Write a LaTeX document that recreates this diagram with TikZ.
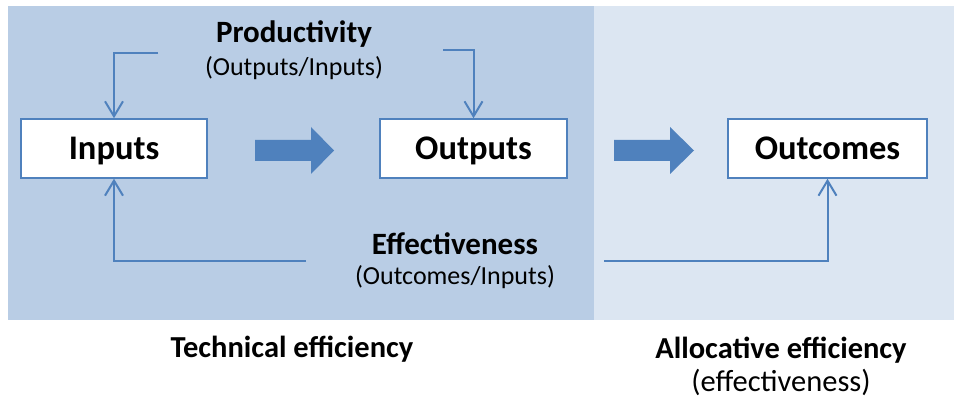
\documentclass[tikz,border=0pt]{standalone}
\usepackage{fontspec}
\setmainfont{Carlito}
\usetikzlibrary{arrows.meta}
\definecolor{darkpanel}{HTML}{B9CDE5}
\definecolor{lightpanel}{HTML}{DCE6F2}
\definecolor{linkblue}{HTML}{4F81BD}
\tikzset{
  box/.style={draw=linkblue,line width=1.5pt,fill=white,minimum height=59pt,
    text height=23pt,text depth=0pt,font=\fontsize{34.5}{38}\selectfont\bfseries},
  link/.style={draw=linkblue,line width=2pt,-{Straight Barb[length=15pt,width=18pt]}},
  title/.style={anchor=base,font=\fontsize{31}{34}\selectfont\bfseries},
  sub/.style={anchor=base,font=\fontsize{26}{30}\selectfont},
  footer/.style={anchor=base,font=\fontsize{30.5}{34}\selectfont\bfseries},
  footnote/.style={anchor=base,font=\fontsize{30.5}{34}\selectfont},
}
\begin{document}
\begin{tikzpicture}[x=1pt,y=-1pt]
      \useasboundingbox (0,0) rectangle (954,403);
      \fill[lightpanel] (594,6) rectangle (954,320);
      \fill[darkpanel] (8,6) rectangle (594,320);
      \draw
        (114,148.5) node[box,minimum width=186pt] (inputs){Inputs}
        (473.5,148.5) node[box,minimum width=187pt] (outputs){Outputs}
        (827.5,148.5) node[box,minimum width=199pt] (outcomes){Outcomes}
        (294,43) node[title] (prod){Productivity}
        (294,76) node[sub] (prodratio){(Outputs/Inputs)}
        (455,255) node[title] (eff){Effectiveness}
        (455,285) node[sub] (effratio){(Outcomes/Inputs)}
        (292,358) node[footer] (technical){Technical efficiency}
        (781,359) node[footer] (allocative){Allocative efficiency}
        (781,392) node[footnote] (allocnote){(effectiveness)};
      \fill[linkblue] (255,140) -- (311,140) -- (311,127) -- (334,150.5)
        -- (311,174) -- (311,161) -- (255,161) -- cycle;
      \fill[linkblue] (614,140) -- (670,140) -- (670,127) -- (694,150.5)
        -- (670,174) -- (670,161) -- (614,161) -- cycle;
      \coordinate (prodL) at (158,53);
      \coordinate (prodR) at (443,50);
      \coordinate (effL) at (306,261);
      \coordinate (effR) at (604,261);
      \begin{scope}[link]
        \draw (prodL) -| (inputs.north);
        \draw (prodR) -| (outputs.north);
        \draw (effL) -| (inputs.south);
        \draw (effR) -| (outcomes.south);
      \end{scope}
    \end{tikzpicture}
\end{document}
